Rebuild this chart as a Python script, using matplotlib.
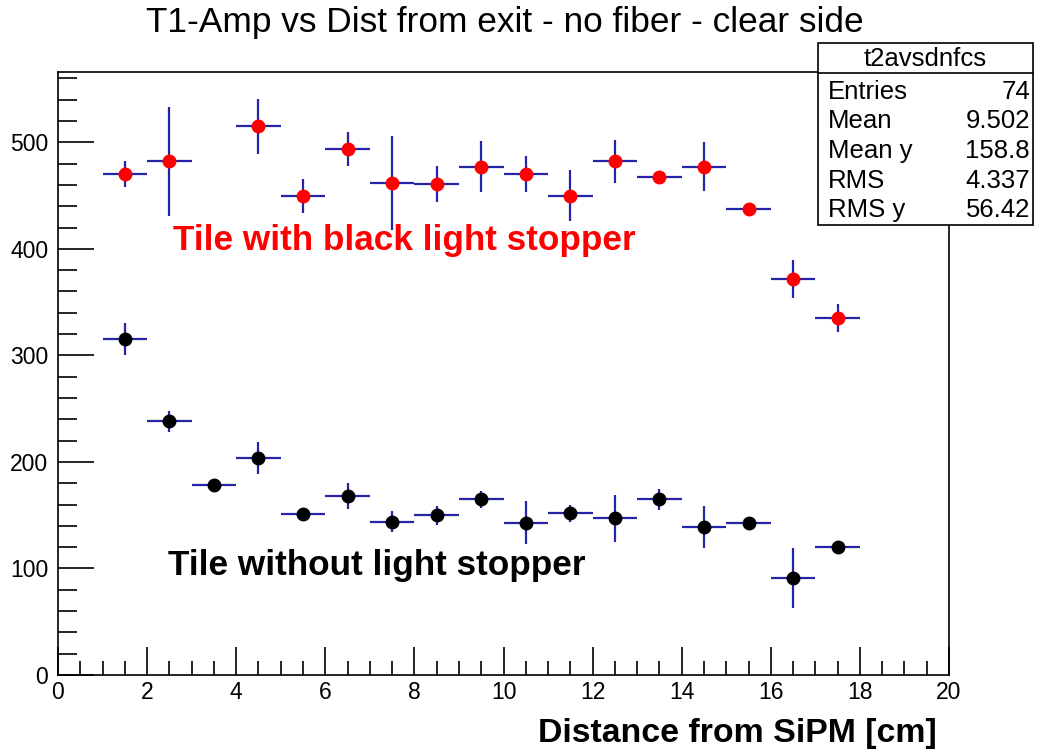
import numpy as np
import matplotlib.pyplot as plt
from matplotlib.patches import Rectangle
from matplotlib.ticker import MultipleLocator

plt.rcParams['font.family'] = ['Liberation Sans', 'DejaVu Sans']

# bin centres (cm) and half widths
dist = [1.5, 2.5, 3.5, 4.5, 5.5, 6.5, 7.5, 8.5, 9.5, 10.5, 11.5, 12.5, 13.5, 14.5, 15.5, 16.5, 17.5]
xerr = [0.5] * len(dist)

# tile with black light stopper (no point at 3.5)
red_x = [1.5, 2.5, 4.5, 5.5, 6.5, 7.5, 8.5, 9.5, 10.5, 11.5, 12.5, 13.5, 14.5, 15.5, 16.5, 17.5]
red_y = [470, 482, 515, 450, 494, 462, 461, 477, 470, 450, 482, 467, 477, 437, 372, 335]
red_err = [12, 51, 26, 16, 16, 44, 17, 24, 17, 24, 20, 5, 23, 3, 18, 13]

# tile without light stopper
blk_y = [315, 238, 178, 204, 151, 168, 144, 150, 165, 143, 152, 147, 165, 139, 143, 91, 120]
blk_err = [15, 10, 3, 15, 3, 12, 10, 9, 8, 20, 8, 22, 10, 20, 3, 28, 3]

stat_names = ['Entries', 'Mean', 'Mean y', 'RMS', 'RMS y']
stat_vals = ['74', '9.502', '158.8', '4.337', '56.42']

fig = plt.figure(figsize=(10.37, 7.52), dpi=100)
ax = fig.add_axes([58/1037, 1-675/752, (949-58)/1037, (675-72)/752])

ebc = '#2424a8'
ax.errorbar(red_x, red_y, xerr=0.5, yerr=red_err, fmt='o', color='red', ms=9,
            ecolor=ebc, elinewidth=1.6, capsize=0, zorder=3)
ax.errorbar(dist, blk_y, xerr=xerr, yerr=blk_err, fmt='o', color='black', ms=9,
            ecolor=ebc, elinewidth=1.6, capsize=0, zorder=3)

ax.set_xlim(0, 20)
ax.set_ylim(0, 566)
ax.xaxis.set_major_locator(MultipleLocator(2))
ax.xaxis.set_minor_locator(MultipleLocator(0.5))
ax.yaxis.set_major_locator(MultipleLocator(100))
ax.yaxis.set_minor_locator(MultipleLocator(20))
ax.tick_params(which='both', direction='in', top=False, right=False, labelsize=16.5, width=1.2)
ax.tick_params(which='major', length=20)
ax.tick_params(which='minor', length=10)
ax.tick_params(axis='y', which='major', length=26, pad=7)
ax.tick_params(axis='y', which='minor', length=14)
ax.tick_params(axis='x', pad=4)
for s in ax.spines.values():
    s.set_linewidth(1.2)

ax.text(2.58, 399, 'Tile with black light stopper', color='red', fontsize=25.3,
        fontweight='bold', va='baseline', ha='left')
ax.text(2.47, 94, 'Tile without light stopper', color='black', fontsize=25.3,
        fontweight='bold', va='baseline', ha='left')

fig.text(505/1037, 1-32/752, 'T1-Amp vs Dist from exit - no fiber - clear side',
         fontsize=25.4, ha='center', va='baseline')
fig.text(937/1037, 1-742/752, 'Distance from SiPM [cm]', fontsize=24.4,
         fontweight='bold', ha='right', va='baseline')

# stats box
bx0, bx1, by0, by1, hy = 818, 1033, 43, 225, 73
fig.patches.append(Rectangle((bx0/1037, 1-by1/752), (bx1-bx0)/1037, (by1-by0)/752,
                             transform=fig.transFigure, fc='white', ec='black', lw=1.2, zorder=5))
fig.add_artist(plt.Line2D([bx0/1037, bx1/1037], [1-hy/752, 1-hy/752],
                          transform=fig.transFigure, color='black', lw=1.2, zorder=6))
fig.text((bx0+bx1)/2/1037, 1-59/752, 't2avsdnfcs', fontsize=18.5, ha='center', va='center', zorder=7)
for i, (n, v) in enumerate(zip(stat_names, stat_vals)):
    yy = 1-(92 + i*29.5)/752
    fig.text(828/1037, yy, n, fontsize=18.5, ha='left', va='center', zorder=7)
    fig.text(1030/1037, yy, v, fontsize=18.5, ha='right', va='center', zorder=7)

fig.savefig('out.png', dpi=100)
